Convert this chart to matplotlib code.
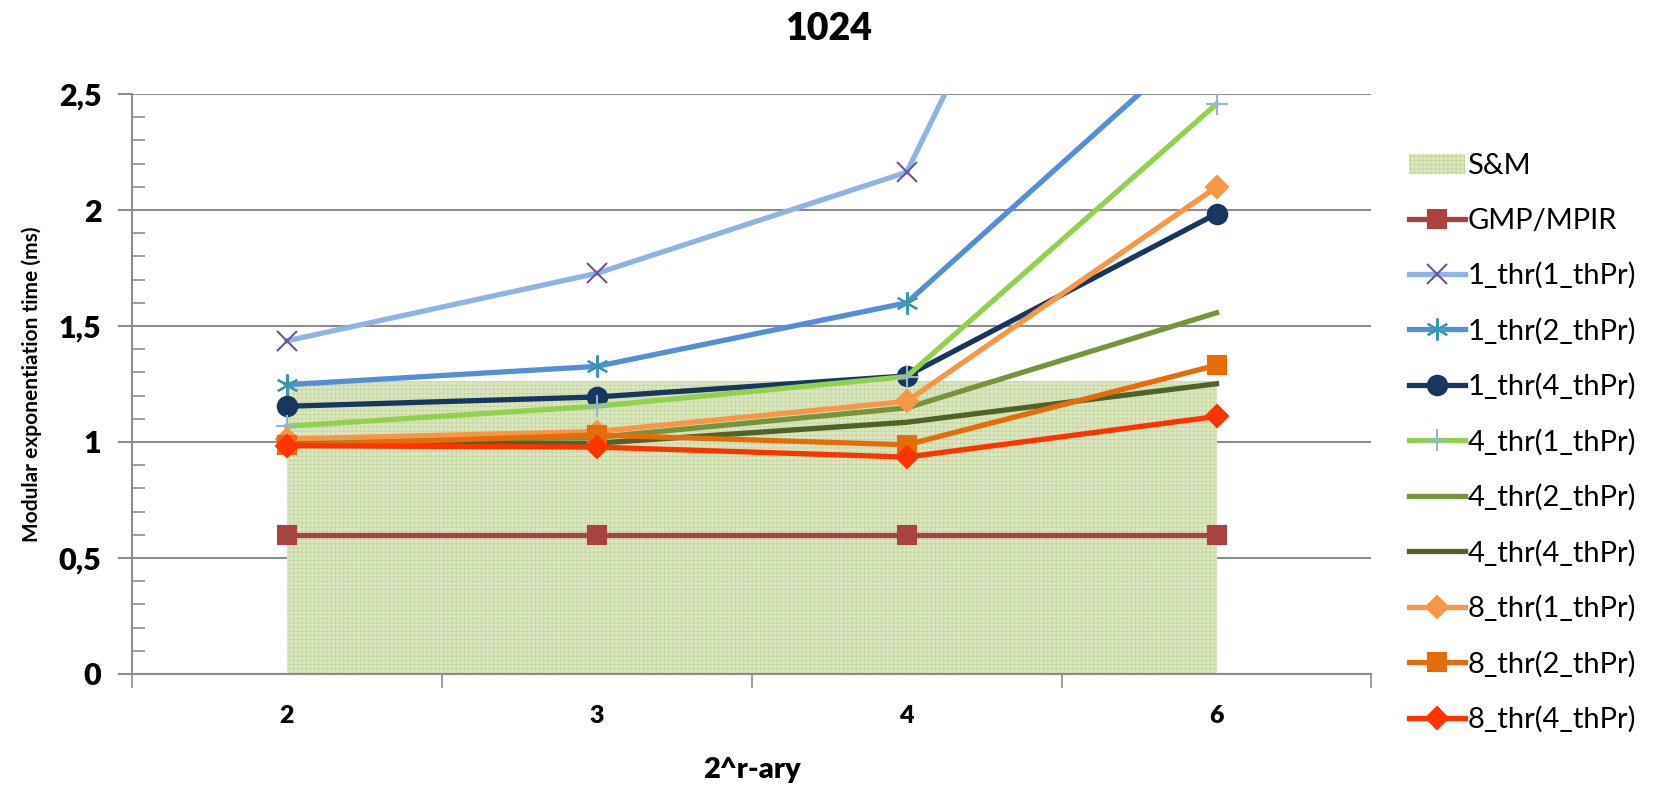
import numpy as np
import matplotlib.pyplot as plt
from matplotlib.ticker import MultipleLocator, FuncFormatter

plt.rcParams['font.family'] = ['Lato', 'DejaVu Sans']

categories = ['2', '3', '4', '6']

sm_area = [1.265, 1.265, 1.265, 1.265]

gmp_mpir = [0.60, 0.60, 0.60, 0.60]
thr1_pr1 = [1.436, 1.727, 2.163, 4.9]
thr1_pr2 = [1.247, 1.326, 1.60, 2.80]
thr1_pr4 = [1.154, 1.194, 1.285, 1.984]
thr4_pr1 = [1.068, 1.154, 1.282, 2.457]
thr4_pr2 = [1.00, 1.02, 1.147, 1.557]
thr4_pr4 = [0.99, 0.995, 1.085, 1.251]
thr8_pr1 = [1.013, 1.045, 1.175, 2.099]
thr8_pr2 = [0.985, 1.03, 0.988, 1.331]
thr8_pr4 = [0.984, 0.978, 0.935, 1.110]

series = [
    ('GMP/MPIR', gmp_mpir, '#A9433F', 's', '#A9433F', 13),
    ('1_thr(1_thPr)', thr1_pr1, '#8EB4E3', 'x', '#6F5597', 14),
    ('1_thr(2_thPr)', thr1_pr2, '#558ED5', (6, 2, 0), '#3A98AE', 16),
    ('1_thr(4_thPr)', thr1_pr4, '#17375E', 'o', '#17375E', 14),
    ('4_thr(1_thPr)', thr4_pr1, '#92D050', '+', '#95B3D7', 16),
    ('4_thr(2_thPr)', thr4_pr2, '#77933C', None, None, 0),
    ('4_thr(4_thPr)', thr4_pr4, '#4F6228', None, None, 0),
    ('8_thr(1_thPr)', thr8_pr1, '#F79646', 'D', '#F79646', 11),
    ('8_thr(2_thPr)', thr8_pr2, '#E46C0A', 's', '#E46C0A', 13),
    ('8_thr(4_thPr)', thr8_pr4, '#FF3300', 'D', '#FF3300', 11),
]

fig = plt.figure(figsize=(16.57, 7.86), dpi=100)
ax = fig.add_axes([0.0797, 0.1425, 0.748, 0.7379])

x = np.arange(len(categories))

# S&M as hatched area
plt.rcParams['hatch.color'] = '#C5D79E'
plt.rcParams['hatch.linewidth'] = 0.6
ax.fill_between(x, 0, sm_area, facecolor='#DCE7C3', edgecolor='#C5D79E',
                hatch='++++', linewidth=0, label='S&M', zorder=1)

for name, vals, col, mk, mcol, ms in series:
    if mk is None:
        ax.plot(x, vals, color=col, lw=3.8, label=name, zorder=3,
                solid_capstyle='projecting')
    else:
        ax.plot(x, vals, color=col, lw=3.8, marker=mk, markersize=ms,
                markerfacecolor=mcol, markeredgecolor=mcol, markeredgewidth=1.5,
                label=name, zorder=3)

ax.set_xlim(-0.5, 3.5)
ax.set_ylim(0, 2.5)

ax.yaxis.set_major_locator(MultipleLocator(0.5))
ax.yaxis.set_minor_locator(MultipleLocator(0.1))
ax.yaxis.set_major_formatter(FuncFormatter(lambda v, p: ('%g' % v).replace('.', ',')))
ax.grid(axis='y', which='major', color='#8C8C8C', lw=1.5, zorder=0)
ax.set_axisbelow(True)

ax.tick_params(axis='y', which='major', length=10, width=1.5, color='#8C8C8C',
               labelsize=22, pad=12, direction='out')
ax.tick_params(axis='y', which='minor', length=9, width=1.2, color='#8C8C8C',
               direction='in')
for lab in ax.get_yticklabels():
    lab.set_fontweight('heavy')

ax.set_xticks(x)
ax.set_xticklabels(categories, fontsize=18, fontweight='heavy')
ax.set_xticks(np.arange(-0.5, 3.6, 1.0), minor=True)
ax.tick_params(axis='x', which='major', length=0, pad=22)
ax.tick_params(axis='x', which='minor', length=10, width=1.2, color='#8C8C8C',
               direction='out')

for s in ['top', 'right']:
    ax.spines[s].set_visible(False)
for s in ['left', 'bottom']:
    ax.spines[s].set_color('#8C8C8C')
    ax.spines[s].set_linewidth(1.5)

ax.set_xlabel('2^r-ary', fontsize=21, fontweight='heavy', labelpad=22)
ax.set_ylabel('Modular exponentiation time (ms)', fontsize=15, fontweight='bold',
              labelpad=12)
fig.suptitle('1024', fontsize=27, fontweight='heavy', x=0.5, y=0.985)

handles, labels = ax.get_legend_handles_labels()
order = [labels.index('S&M')] + [labels.index(s[0]) for s in series]
fig.legend([handles[i] for i in order], [labels[i] for i in order],
           loc='upper left', bbox_to_anchor=(0.843, 0.82), frameon=False,
           fontsize=21, labelspacing=0.98, handlelength=1.92, handletextpad=0.1,
           borderaxespad=0)

fig.savefig('out.png', dpi=100)
